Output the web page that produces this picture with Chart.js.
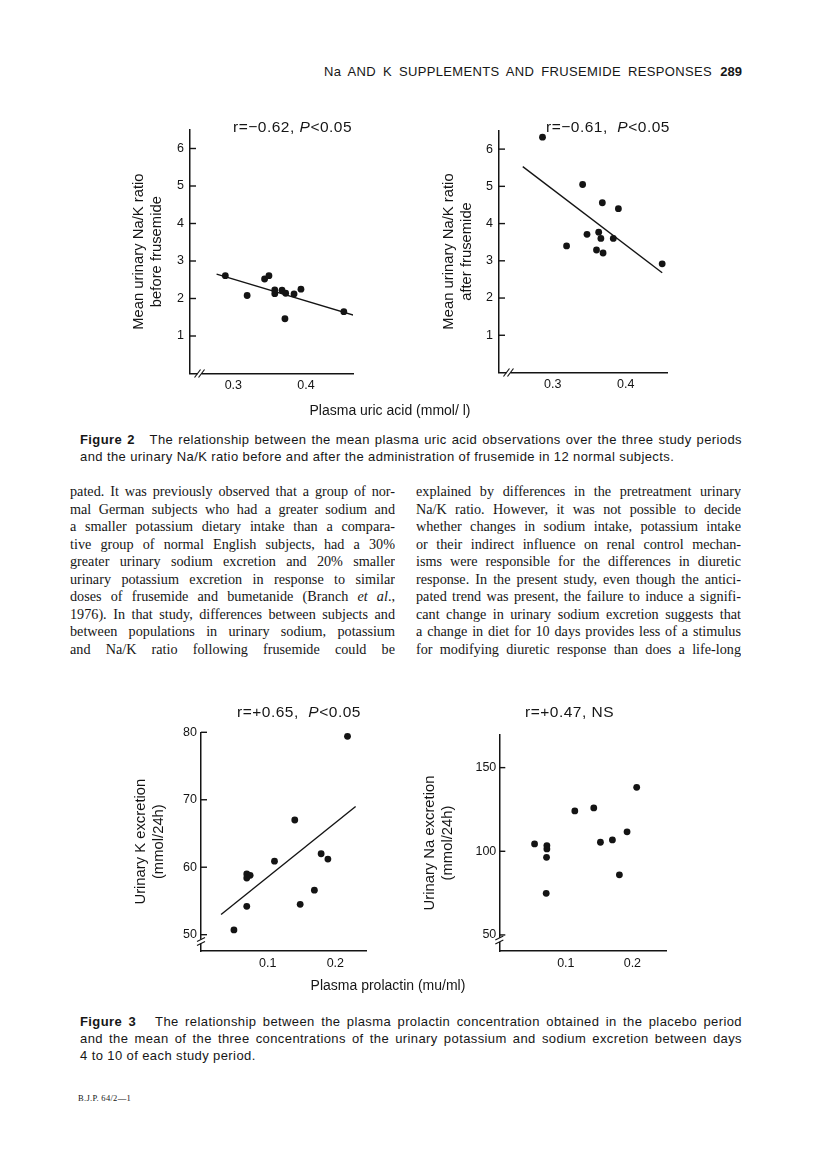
<!DOCTYPE html>
<html>
<head>
<meta charset="utf-8">
<title>Na and K supplements and frusemide responses</title>
<script src="https://cdn.jsdelivr.net/npm/chart.js@4.4.1/dist/chart.umd.min.js"></script>
<style>
  body { margin: 0; background: #fff; }
  #page { position: relative; width: 816px; height: 1149px; background: #fff; color: #161616;
          font-family: "Liberation Sans", Arial, sans-serif; overflow: hidden; }
  canvas { position: absolute; }
  .abs { position: absolute; white-space: nowrap; }
  .head { font-size: 13px; line-height: 16px; letter-spacing: 0.35px; word-spacing: 3px; }
  .rtxt { font-size: 15.5px; line-height: 18px; letter-spacing: 0.5px; }
  .xtitle { font-size: 14px; line-height: 18px; text-align: center; width: 240px; }
  .col { position: absolute; width: 325px; font-family: "Liberation Serif", "Times New Roman", serif;
         font-size: 14.2px; line-height: 17.55px; }
  .col div { text-align: justify; text-align-last: justify; white-space: normal; height: 17.55px; overflow: hidden; }
  .cap { position: absolute; left: 80px; width: 662px; font-size: 13px; line-height: 17px; letter-spacing: 0.4px; }
  .cap .j { text-align: justify; text-align-last: justify; height: 17px; overflow: hidden; }
  .foot { font-family: "Liberation Serif", serif; font-size: 8.5px; letter-spacing: 0.3px; }
</style>
</head>
<body>
<div id="page">
  <canvas id="c1" width="270" height="290" style="left:100px; top:112px;"></canvas>
  <canvas id="c2" width="275" height="290" style="left:410px; top:112px;"></canvas>
  <canvas id="c3" width="265" height="265" style="left:110px; top:715px;"></canvas>
  <canvas id="c4" width="275" height="265" style="left:405px; top:715px;"></canvas>

  <div class="abs head" style="right:104px; top:64px;">Na AND K SUPPLEMENTS AND FRUSEMIDE RESPONSES</div>
  <div class="abs head" style="right:74px; top:64px; font-weight:bold; letter-spacing:0;">289</div>

  <div class="abs rtxt" style="left:233px; top:118px;">r=−0.62, <i>P</i>&lt;0.05</div>
  <div class="abs rtxt" style="left:546px; top:118px;">r=−0.61,&nbsp; <i>P</i>&lt;0.05</div>
  <div class="abs xtitle" style="left:270px; top:401px;">Plasma uric acid (mmol/ l)</div>

  <div class="cap" style="top:431px;">
    <div class="j"><b>Figure 2</b>&nbsp;&nbsp; The relationship between the mean plasma uric acid observations over the three study periods</div>
    <div>and the urinary Na/K ratio before and after the administration of frusemide in 12 normal subjects.</div>
  </div>

  <div class="col" style="left:70px; top:483px;">
    <div>pated. It was previously observed that a group of nor-</div>
    <div>mal German subjects who had a greater sodium and</div>
    <div>a smaller potassium dietary intake than a compara-</div>
    <div>tive group of normal English subjects, had a 30%</div>
    <div>greater urinary sodium excretion and 20% smaller</div>
    <div>urinary potassium excretion in response to similar</div>
    <div>doses of frusemide and bumetanide (Branch <i>et al</i>.,</div>
    <div>1976). In that study, differences between subjects and</div>
    <div>between populations in urinary sodium, potassium</div>
    <div>and Na/K ratio following frusemide could be</div>
  </div>
  <div class="col" style="left:416px; top:483px;">
    <div>explained by differences in the pretreatment urinary</div>
    <div>Na/K ratio. However, it was not possible to decide</div>
    <div>whether changes in sodium intake, potassium intake</div>
    <div>or their indirect influence on renal control mechan-</div>
    <div>isms were responsible for the differences in diuretic</div>
    <div>response. In the present study, even though the antici-</div>
    <div>pated trend was present, the failure to induce a signifi-</div>
    <div>cant change in urinary sodium excretion suggests that</div>
    <div>a change in diet for 10 days provides less of a stimulus</div>
    <div>for modifying diuretic response than does a life-long</div>
  </div>

  <div class="abs rtxt" style="left:237px; top:703px;">r=+0.65,&nbsp; <i>P</i>&lt;0.05</div>
  <div class="abs rtxt" style="left:525px; top:703px;">r=+0.47, NS</div>
  <div class="abs xtitle" style="left:268px; top:976px;">Plasma prolactin (mu/ml)</div>

  <div class="cap" style="top:1013px;">
    <div class="j"><b>Figure 3</b>&nbsp;&nbsp; The relationship between the plasma prolactin concentration obtained in the placebo period</div>
    <div class="j">and the mean of the three concentrations of the urinary potassium and sodium excretion between days</div>
    <div>4 to 10 of each study period.</div>
  </div>

  <div class="abs foot" style="left:78px; top:1093px;">B.J.P. 64/2—1</div>
</div>

<script>
// Figure 2 (left): plasma uric acid vs urinary Na/K before frusemide
const uricBefore  = [0.289, 0.319, 0.343, 0.349, 0.357, 0.357, 0.367, 0.372, 0.3835, 0.393, 0.371, 0.452];
const ratioBefore = [2.61, 2.08, 2.52, 2.61, 2.23, 2.13, 2.22, 2.14, 2.12, 2.25, 1.46, 1.65];
const fitBeforeX  = [0.277, 0.465];
const fitBeforeY  = [2.65, 1.56];

// Figure 2 (right): after frusemide
const uricAfter  = [0.286, 0.341, 0.368, 0.390, 0.347, 0.363, 0.366, 0.383, 0.319, 0.360, 0.369, 0.450];
const ratioAfter = [6.32, 5.05, 4.56, 4.40, 3.71, 3.77, 3.60, 3.60, 3.40, 3.29, 3.21, 2.92];
const fitAfterX  = [0.259, 0.450];
const fitAfterY  = [5.53, 2.68];

// Figure 3 (left): plasma prolactin vs urinary K excretion
const prolactinK = [0.218, 0.140, 0.110, 0.069, 0.074, 0.069, 0.179, 0.189, 0.169, 0.148, 0.069, 0.050];
const kExcretion = [79.4, 67.0, 60.9, 59.0, 58.8, 58.4, 62.0, 61.2, 56.6, 54.5, 54.2, 50.7];
const fitKX = [0.031, 0.230];
const fitKY = [53.0, 69.0];

// Figure 3 (right): plasma prolactin vs urinary Na excretion (no line, NS)
const prolactinNa = [0.053, 0.0715, 0.0715, 0.071, 0.0705, 0.1135, 0.142, 0.2065, 0.152, 0.170, 0.192, 0.1805];
const naExcretion = [104.4, 103.4, 101.4, 96.4, 74.9, 124.1, 125.9, 138.2, 105.4, 106.8, 111.6, 85.9];

// tick labels
const uricTicks = [0.3, 0.4];
const ratioTicks = [1, 2, 3, 4, 5, 6];
const prolactinTicks = [0.1, 0.2];
const kTicks = [50, 60, 70, 80];
const naTicks = [50, 100, 150];

const ink = '#141414';

function pts(xs, ys) {
    return xs.map((v, i) => ({ x: v, y: ys[i] }));
}

// inward y tick marks + axis break marks
const axisExtras = {
    id: 'axisExtras',
    afterDraw(chart, args, opts) {
        const { ctx, chartArea } = chart;
        const xs = chart.scales.x, ys = chart.scales.y;
        ctx.save();
        ctx.strokeStyle = ink;
        ctx.lineWidth = 1.4;
        ys.ticks.forEach(t => {
            const py = ys.getPixelForValue(t.value);
            ctx.beginPath();
            ctx.moveTo(chartArea.left, py);
            ctx.lineTo(chartArea.left + 6, py);
            ctx.stroke();
        });
        if (opts.xBreak != null) {
            const px = xs.getPixelForValue(opts.xBreak);
            const py = chartArea.bottom;
            ctx.fillStyle = '#fff';
            ctx.fillRect(px - 2, py - 2, 4, 4);
            ctx.lineWidth = 1.2;
            [-2, 2].forEach(d => {
                ctx.beginPath();
                ctx.moveTo(px + d - 3, py + 4);
                ctx.lineTo(px + d + 3, py - 4);
                ctx.stroke();
            });
        }
        if (opts.yBreak != null) {
            const px = chartArea.left;
            const py = ys.getPixelForValue(opts.yBreak);
            ctx.fillStyle = '#fff';
            ctx.fillRect(px - 2, py - 2, 4, 4);
            ctx.lineWidth = 1.2;
            [-2, 2].forEach(d => {
                ctx.beginPath();
                ctx.moveTo(px - 4, py + d + 2);
                ctx.lineTo(px + 4, py + d - 2);
                ctx.stroke();
            });
        }
        ctx.restore();
    }
};

function makeChart(id, o) {
    const datasets = [{
        data: pts(o.xs, o.ys),
        pointRadius: 3.4,
        pointBackgroundColor: ink,
        pointBorderWidth: 0,
        showLine: false
    }];
    if (o.fitX) {
        datasets.push({
            data: pts(o.fitX, o.fitY),
            showLine: true,
            pointRadius: 0,
            borderColor: ink,
            borderWidth: 1.4
        });
    }
    return new Chart(document.getElementById(id), {
        type: 'scatter',
        data: { datasets: datasets },
        options: {
            responsive: false,
            animation: false,
            devicePixelRatio: 1,
            layout: { padding: { top: o.padTop, right: o.padRight, left: 0, bottom: 0 } },
            plugins: {
                legend: { display: false },
                tooltip: { enabled: false },
                axisExtras: { xBreak: o.xBreak, yBreak: o.yBreak }
            },
            scales: {
                x: {
                    type: 'linear',
                    min: o.xMin, max: o.xMax,
                    grid: { display: false, drawTicks: false },
                    border: { display: true, color: ink, width: 1.5 },
                    afterBuildTicks: s => { s.ticks = o.xTicks.map(v => ({ value: v })); },
                    afterFit: s => { s.height = o.xHeight; },
                    ticks: {
                        color: ink, padding: 5,
                        font: { family: 'Liberation Sans', size: 12.5 },
                        callback: v => String(v)
                    }
                },
                y: {
                    type: 'linear',
                    min: o.yMin, max: o.yMax,
                    grid: { display: false, drawTicks: false },
                    border: { display: true, color: ink, width: 1.5 },
                    afterBuildTicks: s => { s.ticks = o.yTicks.map(v => ({ value: v })); },
                    afterFit: s => { s.width = o.yWidth; },
                    ticks: {
                        color: ink, padding: o.yLabelPad,
                        font: { family: 'Liberation Sans', size: 12.5 },
                        callback: v => String(v)
                    },
                    title: {
                        display: true,
                        text: o.yTitle,
                        color: ink,
                        font: { family: 'Liberation Sans', size: 14.8, lineHeight: 1.2 },
                        padding: { top: o.titlePad, bottom: 0 }
                    }
                }
            }
        },
        plugins: [axisExtras]
    });
}

makeChart('c1', {
    xs: uricBefore, ys: ratioBefore, fitX: fitBeforeX, fitY: fitBeforeY,
    xMin: 0.2404, xMax: 0.4646, yMin: 0, yMax: 6.5,
    xTicks: uricTicks, yTicks: ratioTicks,
    yTitle: ['Mean urinary Na/K ratio', 'before frusemide'],
    padTop: 17.75, padRight: 17, yWidth: 90, xHeight: 28.5, titlePad: 30, yLabelPad: 6,
    xBreak: 0.2535
});

makeChart('c2', {
    xs: uricAfter, ys: ratioAfter, fitX: fitAfterX, fitY: fitAfterY,
    xMin: 0.2264, xMax: 0.4566, yMin: 0, yMax: 6.5,
    xTicks: uricTicks, yTicks: ratioTicks,
    yTitle: ['Mean urinary Na/K ratio', 'after frusemide'],
    padTop: 18.5, padRight: 18, yWidth: 89, xHeight: 29.5, titlePad: 30, yLabelPad: 6,
    xBreak: 0.2394
});

makeChart('c3', {
    xs: prolactinK, ys: kExcretion, fitX: fitKX, fitY: fitKY,
    xMin: 0.0013, xMax: 0.2464, yMin: 47.58, yMax: 80,
    xTicks: prolactinTicks, yTicks: kTicks,
    yTitle: ['Urinary K excretion', '(mmol/24h)'],
    padTop: 17.3, padRight: 8.3, yWidth: 91, xHeight: 29, titlePad: 22, yLabelPad: 4,
    yBreak: 49.0
});

makeChart('c4', {
    xs: prolactinNa, ys: naExcretion,
    xMin: 0, xMax: 0.2516, yMin: 40.4, yMax: 169.5,
    xTicks: prolactinTicks, yTicks: naTicks,
    yTitle: ['Urinary Na excretion', '(mmol/24h)'],
    padTop: 20, padRight: 13.3, yWidth: 94.3, xHeight: 29, titlePad: 16, yLabelPad: 3,
    yBreak: 47
});
</script>
</body>
</html>
